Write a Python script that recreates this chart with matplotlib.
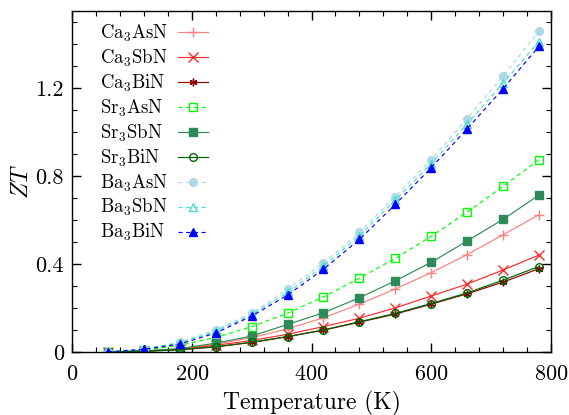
import numpy as np
import matplotlib
matplotlib.use("Agg")
import matplotlib.pyplot as plt
import matplotlib.ticker as mticker
from matplotlib.offsetbox import HPacker, DrawingArea

plt.rcParams.update({
    "font.family": "serif",
    "font.serif": ["cmr10", "DejaVu Serif"],
    "mathtext.fontset": "cm",
    "axes.formatter.use_mathtext": True,
    "font.size": 13,
    "axes.linewidth": 1.0,
    "xtick.direction": "in",
    "ytick.direction": "in",
    "xtick.top": True,
    "ytick.right": True,
})

# ── Data: ZT vs temperature ─────────────────────────────────────────────────
temp = [60, 120, 180, 240, 300, 360, 420, 480, 540, 600, 660, 720, 780]

ca3asn = [0.0, 0.004, 0.013, 0.035, 0.065, 0.105, 0.155, 0.217, 0.286, 0.360, 0.442, 0.532, 0.623]
ca3sbn = [0.0, 0.004, 0.013, 0.030, 0.052, 0.080, 0.115, 0.153, 0.200, 0.254, 0.308, 0.372, 0.440]
ca3bin = [0.0, 0.003, 0.010, 0.023, 0.043, 0.069, 0.099, 0.135, 0.172, 0.217, 0.264, 0.317, 0.378]
sr3asn = [0.0, 0.008, 0.030, 0.066, 0.115, 0.176, 0.250, 0.335, 0.425, 0.525, 0.635, 0.752, 0.873]
sr3sbn = [0.0, 0.005, 0.015, 0.040, 0.072, 0.125, 0.178, 0.246, 0.323, 0.407, 0.504, 0.602, 0.712]
sr3bin = [0.0, 0.003, 0.010, 0.024, 0.044, 0.070, 0.100, 0.137, 0.175, 0.220, 0.268, 0.326, 0.388]
ba3asn = [0.001, 0.014, 0.045, 0.100, 0.176, 0.285, 0.403, 0.543, 0.706, 0.873, 1.060, 1.253, 1.458]
ba3sbn = [0.0, 0.013, 0.040, 0.094, 0.170, 0.270, 0.390, 0.528, 0.690, 0.855, 1.036, 1.220, 1.410]
ba3bin = [0.0, 0.012, 0.036, 0.086, 0.163, 0.258, 0.376, 0.511, 0.670, 0.837, 1.013, 1.195, 1.388]

series = [
    ("Ca$_3$AsN", ca3asn, "#ff8080", "-",  "+", "full"),
    ("Ca$_3$SbN", ca3sbn, "#ff2a2a", "-",  "x", "full"),
    ("Ca$_3$BiN", ca3bin, "#8b0000", "-",  (6, 2, 0), "full"),
    ("Sr$_3$AsN", sr3asn, "#00ff00", "--", "s", "none"),
    ("Sr$_3$SbN", sr3sbn, "#2e8b57", "-",  "s", "full"),
    ("Sr$_3$BiN", sr3bin, "#006400", "-",  "o", "none"),
    ("Ba$_3$AsN", ba3asn, "#add8e6", "--", "o", "full"),
    ("Ba$_3$SbN", ba3sbn, "#40e0d0", "--", "^", "none"),
    ("Ba$_3$BiN", ba3bin, "#0000ff", "--", "^", "full"),
]

fig = plt.figure(figsize=(5.69, 4.15), dpi=100)
ax = fig.add_axes([0.127, 0.152, 0.841, 0.822])

for label, vals, color, ls, mk, fill in series:
    kw = dict(color=color, linestyle=ls, linewidth=0.85, marker=mk,
              markersize=5.5, fillstyle=fill, label=label)
    if ls == "--":
        kw["dashes"] = (3.5, 3)
    if fill == "none":
        kw["markerfacecolor"] = "none"
        kw["markeredgewidth"] = 1.0
    if mk in ("+", "x"):
        kw["markersize"] = 6.5
    ax.plot(temp, vals, **kw)

ax.set_xlim(0, 800)
ax.set_ylim(0, 1.55)
ax.xaxis.set_major_locator(mticker.MultipleLocator(200))
ax.xaxis.set_minor_locator(mticker.MultipleLocator(40))
ax.yaxis.set_major_locator(mticker.MultipleLocator(0.4))
ax.yaxis.set_minor_locator(mticker.MultipleLocator(0.1))
ax.yaxis.set_major_formatter(mticker.FuncFormatter(lambda v, p: "0" if v == 0 else f"{v:.1f}"))
ax.tick_params(which="major", length=6.7, width=1.0, labelsize=16, pad=6)
ax.tick_params(which="minor", length=3.6, width=0.8)
ax.tick_params(axis="x", which="major", pad=9)

ax.set_xlabel("Temperature (K)", fontsize=17, labelpad=5)
ax.set_ylabel("$ZT$", fontsize=17, labelpad=2)

leg = ax.legend(loc="upper left", frameon=False, markerfirst=False, fontsize=13.5,
                handlelength=1.6, handletextpad=0.5, labelspacing=0.2,
                borderpad=0, borderaxespad=0, bbox_to_anchor=(0.059, 0.965))

# left-justify legend labels, keeping the sample lines in one column
fig.canvas.draw()
rend = fig.canvas.get_renderer()
col = leg._legend_handle_box.get_children()[0]
rows = col.get_children()
widths = [hp.get_children()[0].get_bbox(rend).width for hp in rows]
wmax = max(widths)
for hp, w in zip(rows, widths):
    ta, da = hp.get_children()
    pad = DrawingArea((wmax - w) / rend.points_to_pixels(1.0), 0)
    hp._children = [HPacker(pad=0, sep=0, children=[ta, pad]), da]
col.align = "left"

fig.savefig("out.png", dpi=100)
